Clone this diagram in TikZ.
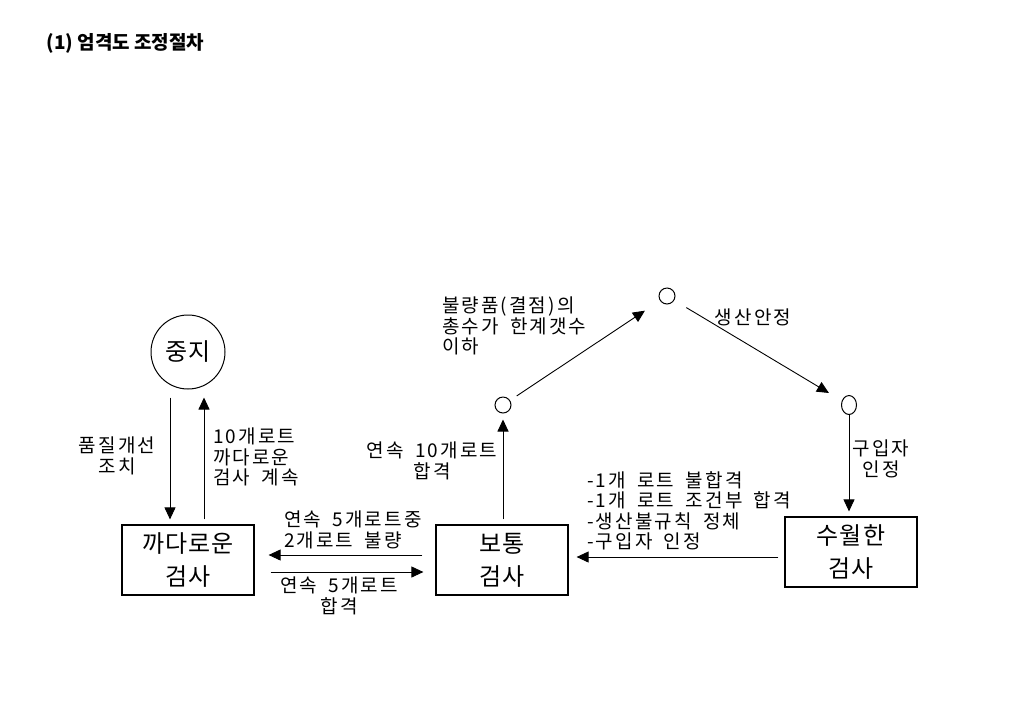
\documentclass[tikz,border=0pt]{standalone}
\usepackage{fontspec}
\setmainfont{Noto Sans CJK KR}
\newfontfamily\kr[LetterSpace=11,WordSpace=1.8]{Noto Sans CJK KR}
\newfontfamily\krbox[LetterSpace=5]{Noto Sans CJK KR}
\usetikzlibrary{arrows.meta,shapes.geometric}

\tikzset{
  box/.style={draw, line width=1.2pt, minimum width=132pt, minimum height=70pt,
    align=center, font=\krbox\fontsize{24}{33}\selectfont},
  lbl/.style={inner sep=0pt, font=\kr\fontsize{19}{20.5}\selectfont},
  arr/.style={-{Triangle[length=12pt,width=11pt]}, line width=0.9pt},
  dot/.style={draw, circle, line width=1pt, minimum size=16pt, inner sep=0pt}
}

\begin{document}
\begin{tikzpicture}[x=1pt,y=-1pt]
  \useasboundingbox (0,0) rectangle (1030,716);

  \node[anchor=west, font=\bfseries\fontsize{19}{22}\selectfont] (title) at (43,43) {(1) 엄격도 조정절차};

  \begin{scope}
    % states
    \node[draw, circle, line width=1pt, minimum size=74pt, inner sep=0pt,
      font=\krbox\fontsize{24}{26}\selectfont] (stop) at (188,352) {중지};
    \node[box] (strict) at (188,560) {까다로운\\검사};
    \node[box] (normal) at (502,560) {보통\\검사};
    \node[box] (reduced) at (851,552) {수월한\\검사};

    \node[dot] (p1) at (503,405) {};
    \node[dot] (p2) at (667,296) {};
    \node[dot, ellipse, minimum width=15pt, minimum height=19pt] (p3) at (849,405) {};

    % connectors
    \draw[arr, shorten <=8pt, shorten >=5pt] ([xshift=-18pt]stop.south) -- ([xshift=-18pt]strict.north);
    \draw[arr, shorten <=5pt, shorten >=8pt] ([xshift=16pt]strict.north) -- ([xshift=16pt]stop.south);
    \draw[arr, shorten <=5pt, shorten >=6pt] (normal.north -| p1) -- (p1.south);
    \draw[arr, shorten <=8pt, shorten >=18pt] (p1) -- (p2);
    \draw[arr, shorten <=14pt, shorten >=15pt] (p2) -- (p3);
    \draw[arr, shorten >=5pt] (p3.south) -- (reduced.north -| p3);
    \draw[arr, shorten <=6pt, shorten >=8pt] (reduced.west |- 0,557) -- (normal.east |- 0,557);
    \draw[arr, shorten <=13pt, shorten >=14pt] (normal.west |- 0,555) -- (strict.east |- 0,555);
    \draw[arr, shorten <=16pt, shorten >=12pt] (strict.east |- 0,572) -- (normal.west |- 0,572);

    % labels
    \node[lbl, align=center] (fix) at (117,456) {품질개선\\조치};
    \node[lbl, align=left, anchor=west] (keep) at (213,457) {10개로트\\까다로운\\검사 계속};
    \node[lbl, align=center] (tenlots) at (432,461) {연속 10개로트\\합격};
    \node[lbl, align=left, anchor=west] (total) at (442,326) {불량품(결점)의\\총수가  한계갯수\\이하};
    \node[lbl] (stable) at (753,317) {생산안정};
    \node[lbl, align=center] (buyer) at (881,459) {구입자\\인정};
    \node[lbl, align=left, anchor=west] (cond) at (587,511) {-1개 로트 불합격\\-1개 로트 조건부 합격\\-생산불규칙 정체\\-구입자 인정};
    \node[lbl, align=left, anchor=west] (fail) at (284,530) {연속 5개로트중\\2개로트 불량};
    \node[lbl, align=center] (pass) at (339,596) {연속 5개로트\\합격};
  \end{scope}
\end{tikzpicture}
\end{document}
